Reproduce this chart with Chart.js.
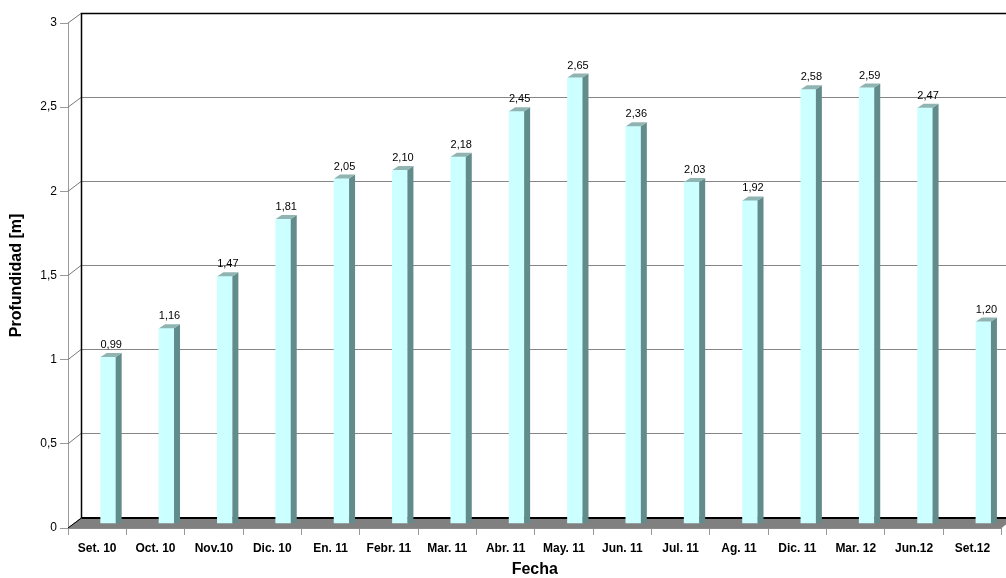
<!DOCTYPE html>
<html>
<head>
<meta charset="utf-8">
<script src="https://cdn.jsdelivr.net/npm/chart.js@4/dist/chart.umd.min.js"></script>
<style>
  html, body { margin: 0; padding: 0; background: #fff; overflow: hidden; }
  canvas { display: block; }
</style>
</head>
<body>
<canvas id="myChart" width="1006" height="578"></canvas>
<script>
const fechas = ["Set. 10", "Oct. 10", "Nov.10", "Dic. 10", "En. 11", "Febr. 11", "Mar. 11", "Abr. 11",
  "May. 11", "Jun. 11", "Jul. 11", "Ag. 11", "Dic. 11", "Mar. 12", "Jun.12", "Set.12"];
const profundidad = [0.99, 1.16, 1.47, 1.81, 2.05, 2.10, 2.18, 2.45, 2.65, 2.36, 2.03, 1.92, 2.58, 2.59, 2.47, 1.20];
const yMin = 0;
const yMax = 3;
const yStep = 0.5;

// 3D look: back wall is pushed right/up, bars sit between wall and front axis
const depthX = 13, depthY = -10.5;
const barShiftX = 11, barShiftY = -4.4;
const sideW = 6, sideH = 4;

function coma(v, dec) {
  return v.toFixed(dec).replace(".", ",");
}

const wallPlugin = {
  id: "wall",
  beforeDatasetsDraw(chart) {
    const ctx = chart.ctx;
    const a = chart.chartArea;
    const y = chart.scales.y;

    ctx.save();
    // floor
    ctx.fillStyle = "#808080";
    ctx.beginPath();
    ctx.moveTo(a.left, a.bottom);
    ctx.lineTo(a.left + depthX, a.bottom + depthY);
    ctx.lineTo(a.right + depthX, a.bottom + depthY);
    ctx.lineTo(a.right, a.bottom);
    ctx.closePath();
    ctx.fill();

    // back wall grid and the slanted links to the front axis
    ctx.lineWidth = 1;
    y.ticks.forEach(function (t) {
      let py = y.getPixelForValue(t.value);
      let pb = Math.round(py + depthY) + 0.5;
      ctx.strokeStyle = "#777";
      ctx.beginPath();
      ctx.moveTo(a.left, py);
      ctx.lineTo(a.left + depthX, pb);
      ctx.stroke();
      if (t.value > yMin && t.value < yMax) {
        ctx.strokeStyle = "#858585";
        ctx.beginPath();
        ctx.moveTo(a.left + depthX, pb);
        ctx.lineTo(a.right + depthX, pb);
        ctx.stroke();
      }
    });

    // wall outline
    let topB = Math.round(a.top + depthY) + 0.5;
    let botB = Math.round(a.bottom + depthY);
    let leftB = Math.round(a.left + depthX) + 0.5;
    ctx.strokeStyle = "#000";
    ctx.lineWidth = 1.5;
    ctx.beginPath();
    ctx.moveTo(a.right + depthX, topB);
    ctx.lineTo(leftB, topB);
    ctx.lineTo(leftB, botB);
    ctx.stroke();
    ctx.lineWidth = 2;
    ctx.beginPath();
    ctx.moveTo(leftB, botB);
    ctx.lineTo(a.right + depthX, botB);
    ctx.stroke();
    ctx.lineWidth = 1;
    ctx.beginPath();
    ctx.moveTo(leftB, botB);
    ctx.lineTo(a.left, a.bottom);
    ctx.stroke();
    ctx.restore();

    // bars are drawn shifted into the depth
    ctx.save();
    ctx.translate(barShiftX, barShiftY);
  },
  afterDatasetsDraw(chart) {
    const ctx = chart.ctx;
    const meta = chart.getDatasetMeta(0);
    meta.data.forEach(function (bar, i) {
      let left = bar.x - bar.width / 2;
      let right = bar.x + bar.width / 2;
      ctx.fillStyle = "#628c8b";
      ctx.beginPath();
      ctx.moveTo(right, bar.y);
      ctx.lineTo(right + sideW, bar.y - sideH);
      ctx.lineTo(right + sideW, bar.base);
      ctx.lineTo(right, bar.base);
      ctx.closePath();
      ctx.fill();
      ctx.fillStyle = "#90b4b2";
      ctx.beginPath();
      ctx.moveTo(left, bar.y);
      ctx.lineTo(left + sideW, bar.y - sideH);
      ctx.lineTo(right + sideW, bar.y - sideH);
      ctx.lineTo(right, bar.y);
      ctx.closePath();
      ctx.fill();

      ctx.fillStyle = "#000";
      ctx.font = "11px 'Liberation Sans', Arial, sans-serif";
      ctx.textAlign = "center";
      ctx.textBaseline = "middle";
      ctx.fillText(coma(profundidad[i], 2), bar.x + sideW / 2, bar.y - 12);
    });
    ctx.restore();
  }
};

const ctx = document.getElementById("myChart").getContext("2d");
const myChart = new Chart(ctx, {
  type: "bar",
  data: {
    labels: fechas,
    datasets: [
      {
        label: "Profundidad",
        data: profundidad,
        backgroundColor: "#ccffff",
        borderWidth: 0,
        barThickness: 15
      }
    ]
  },
  options: {
    responsive: false,
    animation: false,
    layout: { padding: { top: 23, right: 4.4, left: 0, bottom: 0 } },
    plugins: {
      legend: { display: false },
      tooltip: { enabled: false }
    },
    scales: {
      x: {
        afterFit: function (scale) { scale.height = 50; },
        grid: {
          offset: true,
          drawOnChartArea: false,
          tickLength: 7,
          color: "#999"
        },
        border: { display: true, color: "#8a8a8a" },
        ticks: {
          autoSkip: false,
          maxRotation: 0,
          padding: 6,
          color: "#000",
          font: { family: "'Liberation Sans', Arial, sans-serif", size: 12, weight: "bold" }
        },
        title: {
          display: true,
          text: "Fecha",
          color: "#000",
          padding: 0,
          font: { family: "'Liberation Sans', Arial, sans-serif", size: 16, weight: "bold", lineHeight: 1 }
        }
      },
      y: {
        min: yMin,
        max: yMax,
        afterFit: function (scale) { scale.width = 68; },
        grid: {
          drawOnChartArea: false,
          tickLength: 8,
          color: "#999"
        },
        border: { display: true, color: "#999" },
        ticks: {
          stepSize: yStep,
          padding: 3,
          color: "#000",
          font: { family: "'Liberation Sans', Arial, sans-serif", size: 12 },
          callback: function (v) { return String(v).replace(".", ","); }
        },
        title: {
          display: true,
          text: "Profundidad [m]",
          color: "#000",
          padding: { top: 9, bottom: 0 },
          font: { family: "'Liberation Sans', Arial, sans-serif", size: 16, weight: "bold", lineHeight: 1 }
        }
      }
    }
  },
  plugins: [wallPlugin]
});
</script>
</body>
</html>
